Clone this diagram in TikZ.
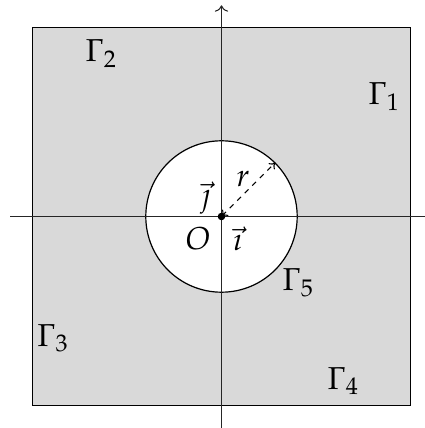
\documentclass[tikz,border=0pt]{standalone}
\usepackage{mathpazo}
\usetikzlibrary{arrows.meta}
\begin{document}
\begin{tikzpicture}[x=1cm,y=1cm,
  lbl/.style={inner sep=0pt,anchor=base west,font=\fontsize{11.9}{14}\selectfont},
  lblc/.style={inner sep=0pt,anchor=base,font=\fontsize{11.9}{14}\selectfont},
  axis/.style={line width=0.4pt,black!85},
  radius line/.style={dash pattern=on 2pt off 2pt,{To[length=2.2pt,width=3.2pt]}-{To[length=2.2pt,width=3.2pt]}}]
\useasboundingbox (-2.926,-2.794) rectangle (2.688,2.860);
\coordinate (O) at (0,0);
\node[draw,fill=black!15,minimum size=5cm,inner sep=0pt,line width=0.45pt] (sq) at (O) {};
\node[draw,fill=white,circle,minimum size=2cm,inner sep=0pt,line width=0.45pt] (c) at (O) {};
\coordinate (xl) at (-2.79,0);
\coordinate (xr) at (2.75,0);
\coordinate (yb) at (0,-2.85);
\coordinate (yt) at (0,2.79);
\draw[axis] (xl) -- (xr);
\draw[axis,-{To[length=2.4pt,width=5pt]}] (yb) -- (yt);
\coordinate (R) at (c.45);
\draw[radius line] (O) -- (R);
\fill (O) circle (0.05);
\node[lblc] (r) at (0.284,0.39) {$r$};
\node[lblc] (j) at (-0.205,0.15) {$\vec{\jmath}$};
\node[lblc] (i) at (0.218,-0.45) {$\vec{\imath}$};
\node[lblc] (o) at (-0.31,-0.44) {$O$};
\node[lbl] (g1) at (1.935,1.482) {$\Gamma_1$};
\node[lbl] (g2) at (-1.803,2.045) {$\Gamma_2$};
\node[lbl] (g3) at (-2.441,-1.711) {$\Gamma_3$};
\node[lbl] (g4) at (1.394,-2.279) {$\Gamma_4$};
\node[lbl] (g5) at (0.799,-0.984) {$\Gamma_5$};
\end{tikzpicture}
\end{document}
